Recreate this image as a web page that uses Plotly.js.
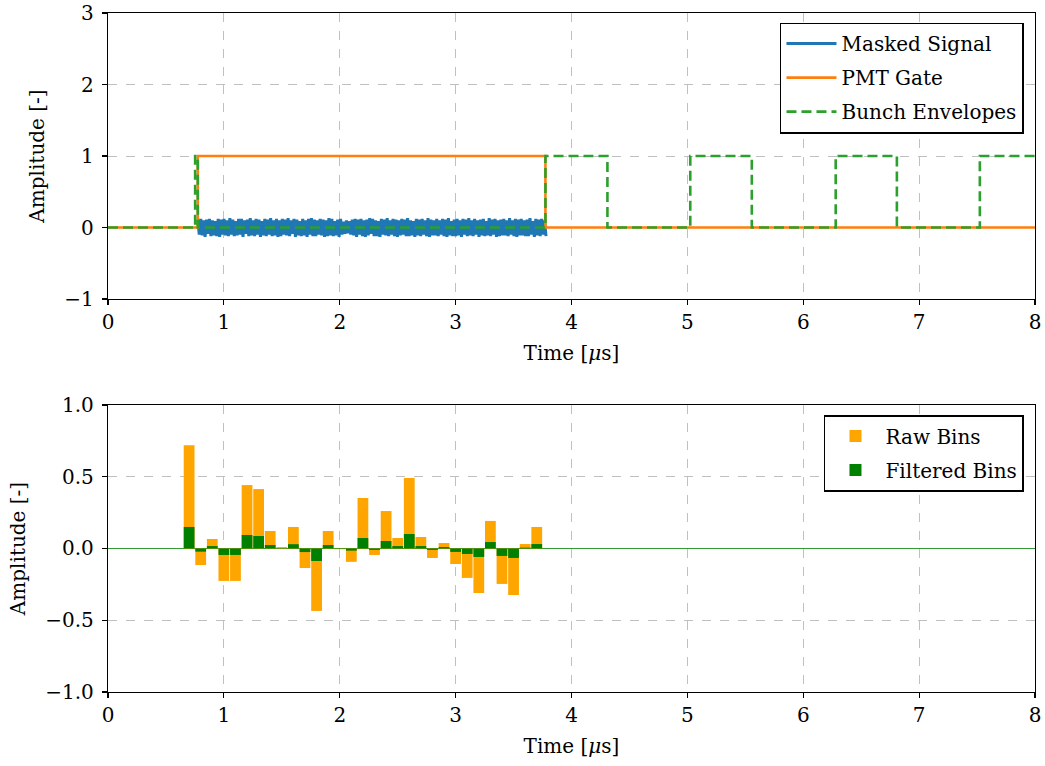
<!DOCTYPE html>
<html>
<head>
<meta charset="utf-8">
<script src="https://cdn.plot.ly/plotly-3.0.1.min.js"></script>
<style>html,body{margin:0;padding:0;background:#fff;}#chart{width:1045px;height:766px;}</style>
</head>
<body>
<div id="chart"></div>
<script>
// ---------- Top panel data ----------
const signalStart = 0.775;
const signalEnd = 3.78;
const maskedNoise = [
0.11,-0.10,0.12,-0.11,0.10,-0.13,0.11,-0.09,0.12,-0.12,
0.10,-0.11,0.09,-0.12,0.12,-0.13,0.11,-0.10,0.12,-0.11,
0.10,-0.12,0.13,-0.10,0.11,-0.12,0.09,-0.11,0.12,-0.10,
0.12,-0.13,0.10,-0.09,0.11,-0.12,0.13,-0.11,0.10,-0.12,
0.12,-0.10,0.11,-0.13,0.09,-0.11,0.12,-0.12,0.11,-0.10,
0.13,-0.12,0.10,-0.11,0.12,-0.13,0.10,-0.12,0.12,-0.10,
0.11,-0.11,0.13,-0.12,0.10,-0.09,0.12,-0.13,0.11,-0.11,
0.09,-0.12,0.12,-0.11,0.10,-0.13,0.12,-0.10,0.13,-0.12,
0.11,-0.12,0.10,-0.10,0.12,-0.11,0.11,-0.13,0.10,-0.12,
0.13,-0.11,0.12,-0.12,0.09,-0.11,0.11,-0.13,0.12,-0.10,
0.08,-0.09,0.10,-0.08,0.09,-0.10,0.11,-0.11,0.12,-0.13,
0.11,-0.10,0.12,-0.12,0.10,-0.13,0.11,-0.11,0.13,-0.09,
0.12,-0.12,0.10,-0.12,0.09,-0.13,0.12,-0.10,0.11,-0.11,
0.13,-0.12,0.10,-0.10,0.12,-0.12,0.11,-0.13,0.10,-0.11,
0.12,-0.10,0.11,-0.12,0.13,-0.12,0.10,-0.11,0.09,-0.13,
0.12,-0.11,0.11,-0.12,0.12,-0.10,0.10,-0.12,0.13,-0.13,
0.11,-0.11,0.10,-0.11,0.12,-0.12,0.10,-0.10,0.12,-0.12,
0.11,-0.13,0.13,-0.11,0.09,-0.12,0.11,-0.12,0.12,-0.11,
0.10,-0.13,0.12,-0.10,0.11,-0.12,0.13,-0.11,0.10,-0.12,
0.12,-0.10,0.10,-0.13,0.11,-0.11,0.12,-0.12,0.09,-0.11,
0.13,-0.12,0.11,-0.10,0.12,-0.13,0.10,-0.12,0.11,-0.11,
0.12,-0.11,0.10,-0.12,0.13,-0.10,0.10,-0.12,0.12,-0.13,
0.11,-0.11,0.12,-0.11,0.10,-0.12,0.11,-0.12,0.13,-0.10,
0.09,-0.13,0.12,-0.11,0.11,-0.12,0.12,-0.10,0.10,-0.12
];
const gateTime  = [0, 0.775, 0.775, 3.775, 3.775, 8];
const gateValue = [0, 0, 1, 1, 0, 0];
const envTime  = [0, 0.752, 0.752, 0.775, 0.775, 3.775, 3.775, 4.31, 4.31, 5.025, 5.025, 5.556, 5.556, 6.28, 6.28, 6.808, 6.808, 7.524, 7.524, 8];
const envValue = [0, 0, 1, 1, 0, 0, 1, 1, 0, 0, 1, 1, 0, 0, 1, 1, 0, 0, 1, 1];

// ---------- Bottom panel data ----------
const binCenters = [0.7,0.8,0.9,1.0,1.1,1.2,1.3,1.4,1.5,1.6,1.7,1.8,1.9,2.0,2.1,2.2,2.3,2.4,2.5,2.6,2.7,2.8,2.9,3.0,3.1,3.2,3.3,3.4,3.5,3.6,3.7];
const rawBins = [0.72,-0.115,0.066,-0.226,-0.226,0.442,0.414,0.122,0.01,0.150,-0.136,-0.435,0.122,-0.005,-0.093,0.352,-0.045,0.261,0.073,0.491,0.080,-0.066,0.038,-0.108,-0.205,-0.310,0.192,-0.247,-0.324,0.031,0.150];
const filteredBins = [0.150,-0.022,0.017,-0.045,-0.045,0.094,0.087,0.024,0.002,0.030,-0.025,-0.087,0.024,-0.003,-0.015,0.073,-0.010,0.052,0.017,0.101,0.017,-0.010,0.010,-0.024,-0.038,-0.059,0.045,-0.052,-0.066,0.006,0.031];
const binWidth = 0.093;

const xTicks = [0,1,2,3,4,5,6,7,8];

// sample times for the masked signal
const sigTime = maskedNoise.map((_, i) => signalStart + i * (signalEnd - signalStart) / (maskedNoise.length - 1));

const FONT = '"DejaVu Serif", serif';
const FS = 20;

const traces = [
  {x: sigTime, y: maskedNoise, type: 'scatter', mode: 'lines', name: 'Masked Signal', legendgroup: 'a',
   line: {color: '#1f77b4', width: 3}, xaxis: 'x', yaxis: 'y', legend: 'legend'},
  {x: gateTime, y: gateValue, type: 'scatter', mode: 'lines', name: 'PMT Gate', legendgroup: 'b',
   line: {color: '#ff7f0e', width: 2.6}, xaxis: 'x', yaxis: 'y', legend: 'legend'},
  {x: envTime, y: envValue, type: 'scatter', mode: 'lines', name: 'Bunch Envelopes', legendgroup: 'c',
   line: {color: '#2ca02c', width: 2.6, dash: '10px,5px'}, xaxis: 'x', yaxis: 'y', legend: 'legend'},
  {x: binCenters, y: rawBins, type: 'bar', name: 'Raw Bins', width: binWidth, legendgroup: 'd',
   marker: {color: '#FFA500', line: {width: 0}}, xaxis: 'x2', yaxis: 'y2', legend: 'legend2'},
  {x: binCenters, y: filteredBins, type: 'bar', name: 'Filtered Bins', width: binWidth, legendgroup: 'e',
   marker: {color: '#008000', line: {width: 0}}, xaxis: 'x2', yaxis: 'y2', legend: 'legend2'}
];

const axisCommon = {
  showline: true, mirror: true, linecolor: '#000', linewidth: 1.2,
  ticks: 'outside', ticklen: 5, tickwidth: 1.2, tickcolor: '#000',
  showgrid: true, gridcolor: '#b0b0b0', gridwidth: 0.8, griddash: 'dash',
  tickfont: {family: FONT, size: FS, color: '#000'},
  ticklabeloverflow: 'allow',
  zeroline: false
};

const layout = {
  width: 1045, height: 766,
  margin: {l: 108, r: 10, t: 13, b: 74},
  paper_bgcolor: '#fff', plot_bgcolor: '#fff',
  font: {family: FONT, size: FS, color: '#000'},
  barmode: 'overlay',
  xaxis: Object.assign({}, axisCommon, {domain: [0, 1], range: [0, 8], tickvals: xTicks, anchor: 'y',
    title: {text: 'Time [<i>μ</i>s]', font: {family: FONT, size: FS}, standoff: 12}}),
  yaxis: Object.assign({}, axisCommon, {domain: [0.5788, 1], range: [-1, 3], tickvals: [-1,0,1,2,3], anchor: 'x',
    ticklabelstandoff: 4,
    title: {text: 'Amplitude [-]', font: {family: FONT, size: FS}, standoff: 14}}),
  xaxis2: Object.assign({}, axisCommon, {domain: [0, 1], range: [0, 8], tickvals: xTicks, anchor: 'y2',
    title: {text: 'Time [<i>μ</i>s]', font: {family: FONT, size: FS}, standoff: 12}}),
  yaxis2: Object.assign({}, axisCommon, {domain: [0, 0.4227], range: [-1, 1], tickvals: [-1,-0.5,0,0.5,1], tickformat: '.1f', anchor: 'x2',
    ticklabelstandoff: 4,
    zeroline: true, zerolinecolor: '#008000', zerolinewidth: 0.8,
    title: {text: 'Amplitude [-]', font: {family: FONT, size: FS}, standoff: 14}}),
  legend: {x: 0.988, xanchor: 'right', y: 0.986, yanchor: 'top', bgcolor: '#fff',
    bordercolor: '#000', borderwidth: 1.6, itemwidth: 50, tracegroupgap: 5, traceorder: 'grouped',
    font: {family: FONT, size: FS}},
  legend2: {x: 0.988, xanchor: 'right', y: 0.408, yanchor: 'top', bgcolor: '#fff',
    bordercolor: '#000', borderwidth: 1.6, itemwidth: 50, tracegroupgap: 5, traceorder: 'grouped',
    font: {family: FONT, size: FS}},
  showlegend: true
};

Plotly.newPlot('chart', traces, layout, {displayModeBar: false, staticPlot: true});
</script>
</body>
</html>
